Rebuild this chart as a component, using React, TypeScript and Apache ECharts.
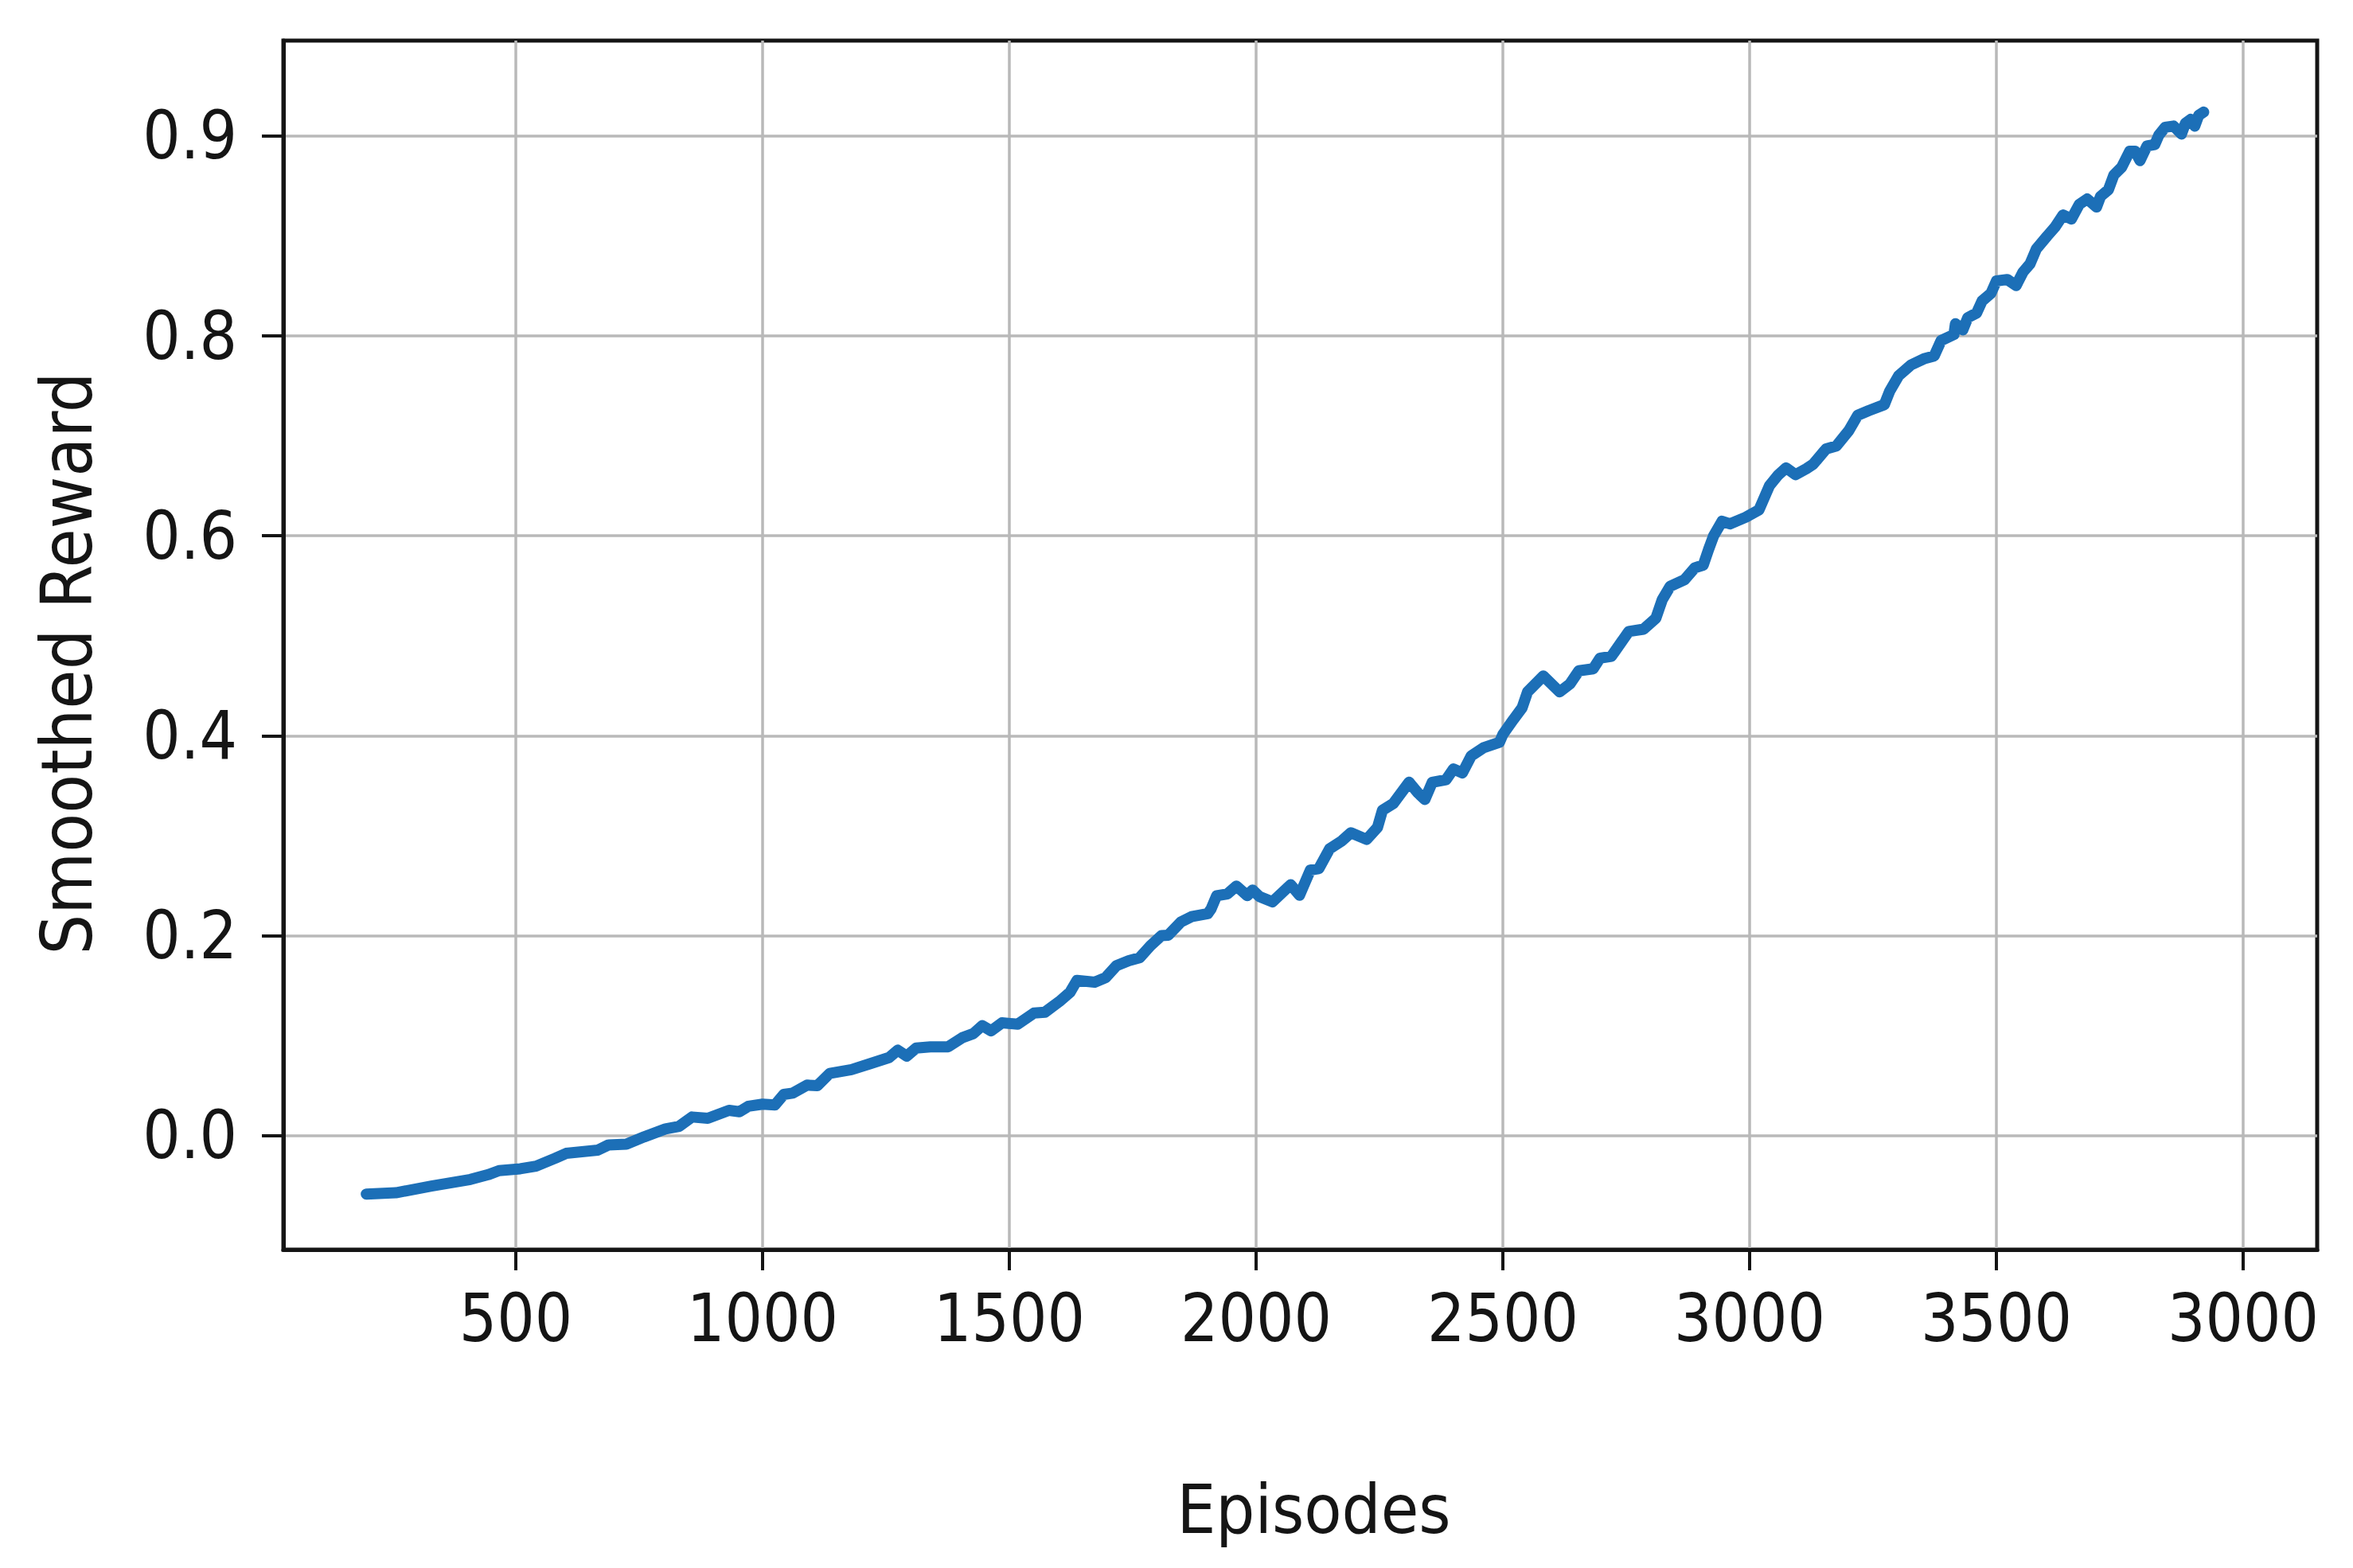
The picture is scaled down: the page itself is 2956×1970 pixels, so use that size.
import React, { useEffect, useRef } from "react";
import * as echarts from "echarts";

// ---- data ----
const episodes: number[] = [
  197, 257, 329, 408, 444, 466, 509, 541, 580, 602, 666, 688, 724, 760, 803, 831, 857, 889, 932, 953,
  971, 1000, 1025, 1043, 1061, 1090, 1111, 1136, 1180, 1216, 1256, 1274, 1292, 1311, 1340, 1376, 1405, 1427, 1445, 1463,
  1485, 1517, 1550, 1572, 1601, 1623, 1637, 1673, 1695, 1717, 1742, 1764, 1786, 1808, 1822, 1848, 1869, 1902, 1909, 1920,
  1942, 1960, 1982, 1993, 2007, 2033, 2070, 2088, 2110, 2127, 2149, 2174, 2192, 2224, 2246, 2256, 2278, 2310, 2328, 2342,
  2357, 2385, 2400, 2418, 2436, 2461, 2493, 2500, 2521, 2539, 2550, 2582, 2615, 2636, 2654, 2683, 2697, 2720, 2755, 2785,
  2810, 2823, 2839, 2868, 2889, 2906, 2917, 2927, 2944, 2960, 2992, 3019, 3040, 3058, 3074, 3093, 3115, 3129, 3155, 3176,
  3201, 3219, 3241, 3273, 3284, 3302, 3327, 3353, 3374, 3388, 3414, 3417, 3432, 3442, 3460, 3471, 3489, 3500, 3522, 3540,
  3554, 3568, 3581, 3603, 3619, 3635, 3652, 3668, 3684, 3703, 3711, 3727, 3738, 3754, 3770, 3781, 3791, 3805, 3821, 3829,
  3842, 3859, 3875, 3883, 3894, 3902, 3910, 3920,
];
const smoothedReward: number[] = [
  -0.0585, -0.0572, -0.0505, -0.0439, -0.0391, -0.0351, -0.0332, -0.0306, -0.0226, -0.0178, -0.0146, -0.0093, -0.0085, -0.0013, 0.0066, 0.0093, 0.0186, 0.0173, 0.0253, 0.0239,
  0.0293, 0.0314, 0.0306, 0.0412, 0.0425, 0.0505, 0.05, 0.0622, 0.066, 0.0716, 0.078, 0.0854, 0.0795, 0.0875, 0.0888, 0.0888, 0.098, 0.102, 0.11, 0.1048,
  0.1128, 0.1114, 0.1226, 0.1234, 0.134, 0.1434, 0.1553, 0.1535, 0.158, 0.17, 0.175, 0.178, 0.19, 0.2, 0.2005, 0.2138, 0.219, 0.222, 0.227, 0.24,
  0.2418, 0.2497, 0.24, 0.2457, 0.239, 0.2338, 0.251, 0.2404, 0.2657, 0.267, 0.287, 0.295, 0.303, 0.2963, 0.3083, 0.3255, 0.3322, 0.3535, 0.3428, 0.3362,
  0.3535, 0.3561, 0.3668, 0.3628, 0.38, 0.388, 0.3934, 0.4013, 0.416, 0.428, 0.4439, 0.4598, 0.4439, 0.4519, 0.465, 0.467, 0.4777, 0.4795, 0.5043, 0.5066,
  0.5176, 0.5362, 0.5495, 0.5561, 0.568, 0.5707, 0.5867, 0.6, 0.6146, 0.612, 0.6186, 0.626, 0.65, 0.661, 0.668, 0.6612, 0.6672, 0.6718, 0.687, 0.69,
  0.7053, 0.7206, 0.7252, 0.7313, 0.745, 0.7603, 0.771, 0.7771, 0.78, 0.7954, 0.8015, 0.8122, 0.8061, 0.8183, 0.823, 0.835, 0.8427, 0.855, 0.8565, 0.8504,
  0.864, 0.872, 0.887, 0.9, 0.909, 0.921, 0.917, 0.9317, 0.937, 0.929, 0.9396, 0.9463, 0.961, 0.9689, 0.9848, 0.9848, 0.9755, 0.99, 0.9915, 1.0008,
  1.0088, 1.01, 1.002, 1.0128, 1.0168, 1.01, 1.0207, 1.024,
];

// tick positions on the linear scale and the labels printed at them
const xTickValues: number[] = [500, 1000, 1500, 2000, 2500, 3000, 3500, 4000];
const xTickLabels: string[] = ["500", "1000", "1500", "2000", "2500", "3000", "3500", "3000"];
const yTickValues: number[] = [0, 0.2, 0.4, 0.6, 0.8, 1.0];
const yTickLabels: string[] = ["0.0", "0.2", "0.4", "0.6", "0.8", "0.9"];

const xTitle = "Episodes";
const yTitle = "Smoothed Reward";

const FONT = "'DejaVu Sans Condensed', 'DejaVu Sans', sans-serif";
const INK = "#151515";
const LINE = "#1c6fb7";

function lookup(values: number[], labels: string[], v: number): string {
  for (let i = 0; i < values.length; i++) {
    if (Math.abs(values[i] - v) < 1e-6) return labels[i];
  }
  return "";
}

export default function App() {
  const ref = useRef<HTMLDivElement>(null);

  useEffect(() => {
    if (!ref.current) return;
    const chart = echarts.init(ref.current, undefined, { renderer: "svg" });
    const data = episodes.map((x, i) => [x, smoothedReward[i]]);
    chart.setOption({
      animation: false,
      backgroundColor: "#ffffff",
      grid: {
        left: 356,
        right: 45,
        top: 51,
        bottom: 400,
        show: true,
        borderColor: INK,
        borderWidth: 5,
        backgroundColor: "transparent",
      },
      xAxis: {
        type: "value",
        min: 29,
        max: 4150,
        splitNumber: 8,
        name: xTitle,
        nameLocation: "middle",
        nameGap: 283,
        nameTextStyle: { fontFamily: FONT, fontSize: 86, color: INK, padding: [0, 0, 0, 34] },
        axisLine: { show: true, onZero: false, lineStyle: { color: INK, width: 5 } },
        axisTick: {
          show: true,
          inside: false,
          length: 26,
          customValues: xTickValues,
          lineStyle: { color: INK, width: 4 },
        },
        axisLabel: {
          customValues: xTickValues,
          formatter: (v: number) => lookup(xTickValues, xTickLabels, v),
          margin: 45,
          fontFamily: FONT,
          fontSize: 83,
          color: INK,
        },
        splitLine: { show: true, lineStyle: { color: "#b9b9b9", width: 3.5 } },
      },
      yAxis: {
        type: "value",
        min: -0.1141,
        max: 1.0955,
        splitNumber: 6,
        name: yTitle,
        nameLocation: "middle",
        nameGap: 228,
        nameTextStyle: { fontFamily: FONT, fontSize: 89, color: INK, padding: [0, 46, 0, 0] },
        axisLine: { show: true, onZero: false, lineStyle: { color: INK, width: 5 } },
        axisTick: {
          show: true,
          inside: false,
          length: 27,
          customValues: yTickValues,
          lineStyle: { color: INK, width: 4 },
        },
        axisLabel: {
          customValues: yTickValues,
          formatter: (v: number) => lookup(yTickValues, yTickLabels, v),
          margin: 58,
          fontFamily: FONT,
          fontSize: 83,
          color: INK,
        },
        splitLine: { show: true, lineStyle: { color: "#b9b9b9", width: 3.5 } },
      },
      series: [
        {
          type: "line",
          data,
          showSymbol: false,
          symbol: "none",
          lineStyle: { color: LINE, width: 14, cap: "round", join: "round" },
          itemStyle: { color: LINE },
          z: 5,
        },
      ],
    });
    return () => chart.dispose();
  }, []);

  return (
    <div
      ref={ref}
      style={{ position: "absolute", left: 0, top: 0, width: 2956, height: 1970, background: "#fff" }}
    />
  );
}
